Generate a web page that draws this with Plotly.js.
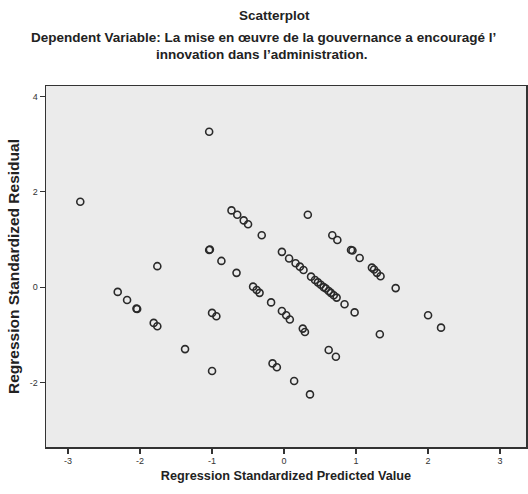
<!DOCTYPE html>
<html>
<head>
<meta charset="utf-8">
<script src="https://cdn.plot.ly/plotly-3.0.1.min.js"></script>
<style>
html,body{margin:0;padding:0;background:#fff;}
#chart{width:528px;height:494px;}
</style>
</head>
<body>
<div id="chart"></div>
<script>
// Regression standardized predicted value (x) and standardized residual (y)
const predicted = [
  -2.83, -1.04, -0.73, -0.65, -0.56, -0.50, -0.31, -1.04, -1.03, -0.87, -0.66, -1.76,
  -0.03, 0.07, 0.16, 0.22, 0.27,
  0.375, 0.43, 0.47, 0.51, 0.55, 0.58, 0.62, 0.65, 0.69, 0.73,
  0.84, 0.98, 0.33, 0.67, 0.74, 0.93, 0.95, 1.05, 1.22, 1.25, 1.29, 1.34, 1.55, 2.00, 2.18,
  1.33, 0.62, 0.72,
  -0.43, -0.38, -0.34, -0.18, -0.03, 0.03, 0.08, 0.26, 0.29,
  -0.16, -0.10, 0.14, 0.36,
  -1.00, -0.94, -1.375, -1.00,
  -2.31, -2.18, -2.05, -2.04, -1.81, -1.76
];
const residual = [
  1.79, 3.26, 1.61, 1.52, 1.40, 1.32, 1.09, 0.78, 0.79, 0.55, 0.30, 0.44,
  0.74, 0.60, 0.50, 0.43, 0.36,
  0.22, 0.15, 0.10, 0.05, 0.00, -0.03, -0.08, -0.12, -0.17, -0.22,
  -0.36, -0.53, 1.52, 1.09, 0.99, 0.78, 0.77, 0.61, 0.41, 0.37, 0.30, 0.23, -0.02, -0.59, -0.85,
  -0.99, -1.32, -1.46,
  0.01, -0.06, -0.12, -0.32, -0.50, -0.59, -0.68, -0.87, -0.94,
  -1.60, -1.68, -1.97, -2.25,
  -0.54, -0.61, -1.30, -1.76,
  -0.10, -0.27, -0.45, -0.46, -0.75, -0.82
];
const xTickVals = [-3, -2, -1, 0, 1, 2, 3];
const xTickText = ["-3", "-2", "-1", "0", "1", "2", "3"];
const yTickVals = [-2, 0, 2, 4];
const yTickText = ["-2", "0", "2", "4"];

const chartTitle = "Scatterplot";
const subtitleLine1 = "Dependent Variable: La mise en œuvre de la gouvernance a encouragé l’";
const subtitleLine2 = "innovation dans l’administration.";
const xTitle = "Regression Standardized Predicted Value";
const yTitle = "Regression Standardized Residual";

const font = "Liberation Sans, Arial, sans-serif";

const trace = {
  type: "scatter",
  mode: "markers",
  x: predicted,
  y: residual,
  marker: {
    symbol: "circle-open",
    size: 7,
    color: "#2a2a2a",
    line: {width: 1.6, color: "#2a2a2a"}
  },
  hoverinfo: "skip"
};

function ann(text, x, y, size) {
  return {
    text: "<b>" + text + "</b>",
    xref: "paper", yref: "paper",
    x: x, y: y, xanchor: "center", yanchor: "middle",
    showarrow: false,
    font: {size: size, family: font, color: "#222"}
  };
}

const layout = {
  width: 528,
  height: 494,
  margin: {l: 46, r: 2, t: 86, b: 47},
  paper_bgcolor: "#ffffff",
  plot_bgcolor: "#ebebeb",
  showlegend: false,
  font: {family: font, color: "#222"},
  xaxis: {
    range: [-3.306, 3.36],
    tickvals: xTickVals,
    ticktext: xTickText,
    ticks: "outside",
    ticklen: 5,
    tickwidth: 1.2,
    tickcolor: "#333",
    tickfont: {size: 9, family: font, color: "#333"},
    showgrid: false,
    zeroline: false,
    showline: true,
    mirror: true,
    linecolor: "#333",
    linewidth: 1.5,
    title: {text: "<b>" + xTitle + "</b>", font: {size: 12.7, family: font, color: "#222"}, standoff: 6}
  },
  yaxis: {
    range: [-3.354, 4.22],
    tickvals: yTickVals,
    ticktext: yTickText,
    ticks: "outside",
    ticklen: 5,
    tickwidth: 1.2,
    tickcolor: "#333",
    tickfont: {size: 9, family: font, color: "#333"},
    showgrid: false,
    zeroline: false,
    showline: true,
    mirror: true,
    linecolor: "#333",
    linewidth: 1.5,
    title: {text: "<b>" + yTitle + "</b>", font: {size: 15.5, family: font, color: "#222"}, standoff: 6}
  },
  annotations: [
    ann(chartTitle, 0.475, 1.194, 13.5),
    ann(subtitleLine1, 0.453, 1.134, 13.5),
    ann(subtitleLine2, 0.451, 1.088, 13.5)
  ]
};

Plotly.newPlot("chart", [trace], layout, {staticPlot: true, displayModeBar: false});
</script>
</body>
</html>
